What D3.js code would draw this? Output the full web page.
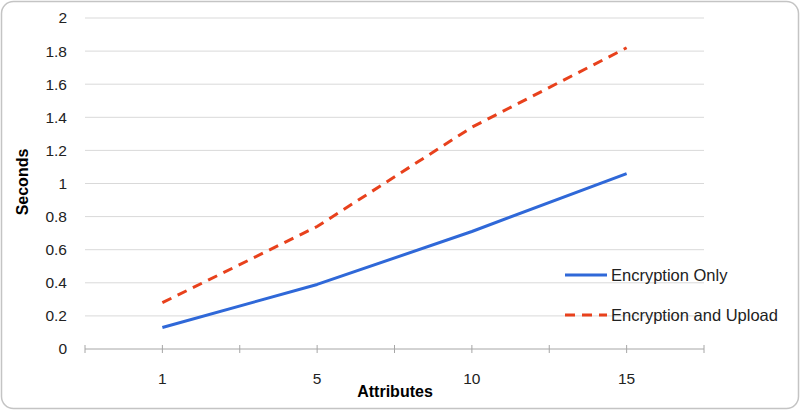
<!DOCTYPE html>
<html>
<head>
<meta charset="utf-8">
<script src="https://cdn.jsdelivr.net/npm/d3@7"></script>
<style>
  body { margin: 0; background: #fff; }
  svg { font-family: "Liberation Sans", Arial, sans-serif; }
</style>
</head>
<body>
<div class="chart-pane"></div>
<script>
// chart data
var attributes = ["1", "5", "10", "15"];
var encryptionOnly = [0.13, 0.39, 0.71, 1.06];
var encryptionUpload = [0.28, 0.74, 1.34, 1.82];
var yTicks = [0, 0.2, 0.4, 0.6, 0.8, 1, 1.2, 1.4, 1.6, 1.8, 2];
var seriesNames = ["Encryption Only", "Encryption and Upload"];

var width = 800, height = 410;
var plot = {left: 85, right: 704, top: 18, bottom: 349};

var svg = d3.select(".chart-pane")
  .append("svg")
  .attr("width", width)
  .attr("height", height);

// rounded frame around the whole chart
svg.append("rect")
  .attr("x", 1.5).attr("y", 1.5)
  .attr("width", width - 3).attr("height", height - 3)
  .attr("rx", 12).attr("ry", 12)
  .attr("fill", "#fff")
  .attr("stroke", "#c4c4c4")
  .attr("stroke-width", 1.5);

var xScale = d3.scaleBand()
  .domain(attributes)
  .range([plot.left, plot.right]);

var yScale = d3.scaleLinear()
  .domain([0, 2])
  .range([plot.bottom, plot.top]);

// horizontal gridlines
svg.append("g")
  .selectAll("line")
  .data(yTicks.filter(function(d) { return d > 0; }))
  .join("line")
  .attr("x1", plot.left).attr("x2", plot.right)
  .attr("y1", function(d) { return yScale(d); })
  .attr("y2", function(d) { return yScale(d); })
  .attr("stroke", "#d9d9d9")
  .attr("stroke-width", 1);

// y axis labels (no axis line in the original)
var yAxis = d3.axisLeft(yScale)
  .tickValues(yTicks)
  .tickSize(0)
  .tickPadding(18)
  .tickFormat(function(d) { return d3.format("~g")(d); });

var gy = svg.append("g")
  .attr("transform", "translate(" + plot.left + ",0)")
  .call(yAxis);
gy.select(".domain").remove();
gy.selectAll("text")
  .attr("font-family", "Liberation Sans, Arial, sans-serif")
  .attr("font-size", 15.5)
  .attr("fill", "#222");

// x axis: ticks at category borders and centers
var xAxisG = svg.append("g");
xAxisG.append("line")
  .attr("x1", plot.left).attr("x2", plot.right)
  .attr("y1", plot.bottom).attr("y2", plot.bottom)
  .attr("stroke", "#a6a6a6")
  .attr("stroke-width", 1);

var tickXs = [];
attributes.forEach(function(a, i) {
  tickXs.push(xScale(a));
  tickXs.push(xScale(a) + xScale.bandwidth() / 2);
});
tickXs.push(plot.right);

xAxisG.selectAll(".tick-mark")
  .data(tickXs)
  .join("line")
  .attr("class", "tick-mark")
  .attr("x1", function(d) { return d; })
  .attr("x2", function(d) { return d; })
  .attr("y1", plot.bottom - 4)
  .attr("y2", plot.bottom + 4)
  .attr("stroke", "#a6a6a6")
  .attr("stroke-width", 1);

xAxisG.selectAll(".x-label")
  .data(attributes)
  .join("text")
  .attr("class", "x-label")
  .attr("x", function(d) { return xScale(d) + xScale.bandwidth() / 2; })
  .attr("y", 384)
  .attr("text-anchor", "middle")
  .attr("font-size", 15.5)
  .attr("fill", "#222")
  .text(function(d) { return d; });

// axis titles
svg.append("text")
  .attr("x", 395).attr("y", 397)
  .attr("text-anchor", "middle")
  .attr("font-size", 16)
  .attr("font-weight", "bold")
  .text("Attributes");

svg.append("text")
  .attr("transform", "translate(28," + 182 + ") rotate(-90)")
  .attr("text-anchor", "middle")
  .attr("font-size", 16)
  .attr("font-weight", "bold")
  .text("Seconds");

// lines
var line = d3.line()
  .x(function(d, i) { return xScale(attributes[i]) + xScale.bandwidth() / 2; })
  .y(function(d) { return yScale(d); });

svg.append("path")
  .datum(encryptionUpload)
  .attr("fill", "none")
  .attr("stroke", "#e8411c")
  .attr("stroke-width", 3)
  .attr("stroke-dasharray", "10 7")
  .attr("d", line);

svg.append("path")
  .datum(encryptionOnly)
  .attr("fill", "none")
  .attr("stroke", "#2f68d8")
  .attr("stroke-width", 3)
  .attr("stroke-linejoin", "round")
  .attr("d", line);

// legend
var legend = svg.append("g").attr("transform", "translate(565,0)");
var legendRows = [
  {name: seriesNames[0], color: "#2f68d8", dash: null, y: 275},
  {name: seriesNames[1], color: "#e8411c", dash: "10 7", y: 315}
];
legendRows.forEach(function(r) {
  legend.append("line")
    .attr("x1", 0).attr("x2", 42)
    .attr("y1", r.y).attr("y2", r.y)
    .attr("stroke", r.color)
    .attr("stroke-width", 3)
    .attr("stroke-dasharray", r.dash);
  legend.append("text")
    .attr("x", 46).attr("y", r.y + 5.5)
    .attr("font-size", 16.5)
    .attr("fill", "#222")
    .text(r.name);
});
</script>
</body>
</html>
